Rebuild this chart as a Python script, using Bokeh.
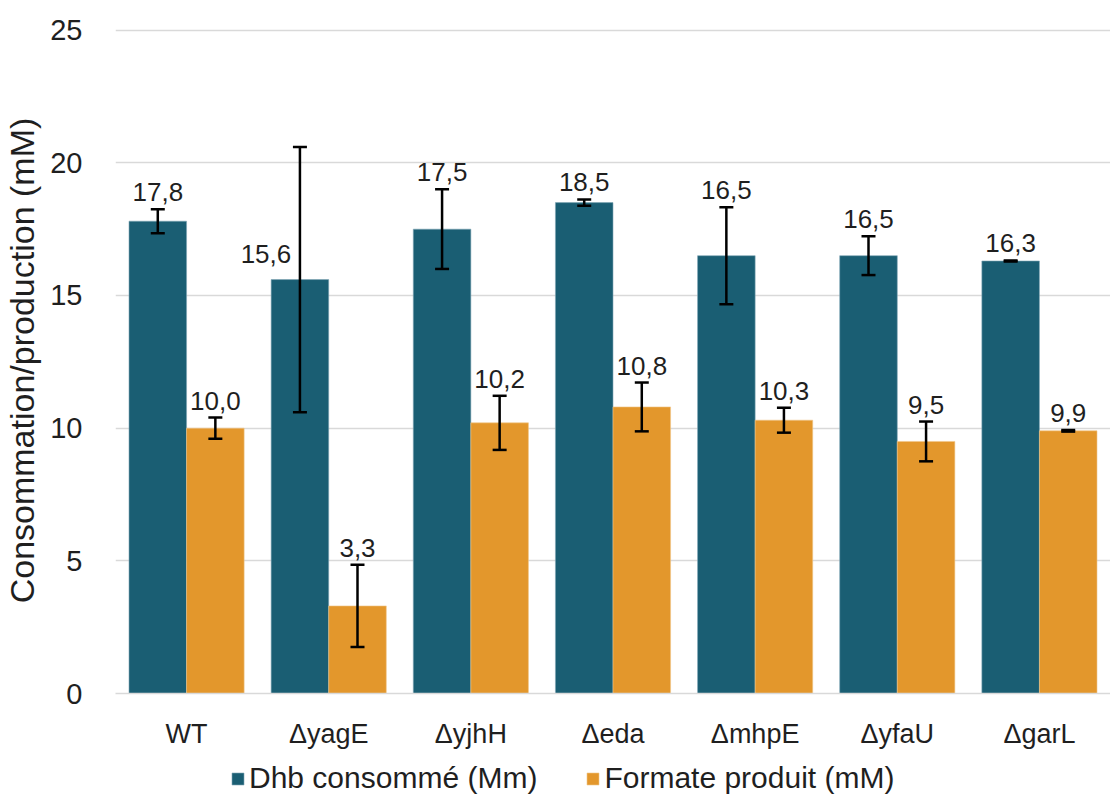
from bokeh.plotting import figure
from bokeh.layouts import column
from bokeh.models import ColumnDataSource, FactorRange, Range1d, Whisker, Legend, LegendItem, TeeHead
from bokeh.transform import dodge
from bokeh.core.properties import value
from bokeh.embed import file_html
from bokeh.resources import INLINE

categories = ["WT", "ΔyagE", "ΔyjhH", "Δeda", "ΔmhpE", "ΔyfaU", "ΔgarL"]
dhb = [17.8, 15.6, 17.5, 18.5, 16.5, 16.5, 16.3]
dhb_err = [0.45, 5.0, 1.5, 0.12, 1.83, 0.73, 0.02]
formate = [10.0, 3.3, 10.2, 10.8, 10.3, 9.5, 9.9]
formate_err = [0.40, 1.55, 1.02, 0.92, 0.47, 0.75, 0.03]
series_names = ["Dhb consommé (Mm)", "Formate produit (mM)"]
y_ticks = [0, 5, 10, 15, 20, 25]

TEAL = "#1a5e73"
ORANGE = "#e3972c"
FONT = "Liberation Sans"
TXT = "#1f1f1f"


def fmt(v):
    return f"{v:.1f}".replace(".", ",")


def make_source(vals, errs):
    big = [e > 3 for e in errs]
    return ColumnDataSource(dict(
        cat=categories,
        val=vals,
        upper=[v + e for v, e in zip(vals, errs)],
        lower=[v - e for v, e in zip(vals, errs)],
        label=[fmt(v) for v in vals],
        label_y=[v if b else v + e for v, e, b in zip(vals, errs, big)],
        label_dx=[-34 if b else 0 for b in big],
        label_dy=[-17 if b else -8 for b in big],
    ))


src_d = make_source(dhb, dhb_err)
src_f = make_source(formate, formate_err)

p = figure(
    frame_width=995, frame_height=666,
    x_range=FactorRange(*categories, range_padding=0),
    y_range=Range1d(0, 25.1),
    output_backend="svg", toolbar_location=None,
    min_border_left=113, min_border_right=2, min_border_top=27, min_border_bottom=58,
)
p.outline_line_color = None
p.background_fill_color = "white"

W = 0.405
off = W / 2
bar_d = dict(fill_color=TEAL, line_color="#7fa6b5", line_width=0.6)
bar_f = dict(fill_color=ORANGE, line_color="#f0c68a", line_width=0.6)
p.vbar(x=dodge("cat", -off, range=p.x_range), top="val", width=W, source=src_d, **bar_d)
p.vbar(x=dodge("cat", off, range=p.x_range), top="val", width=W, source=src_f, **bar_f)

for src, dx in ((src_d, -off), (src_f, off)):
    w = Whisker(source=src, base=dodge("cat", dx, range=p.x_range), upper="upper", lower="lower",
                line_color="black", line_width=2.5, level="overlay",
                upper_head=TeeHead(size=14, line_color="black", line_width=2.5),
                lower_head=TeeHead(size=14, line_color="black", line_width=2.5))
    p.add_layout(w)
    p.text(x=dodge("cat", dx, range=p.x_range), y="label_y", text="label", source=src,
           x_offset="label_dx", y_offset="label_dy",
           text_align="center", text_baseline="bottom",
           text_font=value(FONT), text_font_size="26px", text_color=TXT)

# axes
p.yaxis.ticker = y_ticks
p.yaxis.axis_line_color = None
p.yaxis.major_tick_line_color = None
p.yaxis.minor_tick_line_color = None
p.yaxis.major_label_text_font = FONT
p.yaxis.major_label_text_font_size = "29px"
p.yaxis.major_label_text_color = TXT
p.yaxis.major_label_standoff = 27
p.yaxis.axis_label = "Consommation/production (mM)"
p.yaxis.axis_label_text_font = FONT
p.yaxis.axis_label_text_font_size = "34px"
p.yaxis.axis_label_text_font_style = "normal"
p.yaxis.axis_label_text_color = TXT
p.yaxis.axis_label_standoff = 6

p.xaxis.axis_line_color = "#d9d9d9"
p.xaxis.axis_line_width = 1.5
p.xaxis.major_tick_line_color = None
p.xaxis.minor_tick_line_color = None
p.xaxis.major_label_text_font = FONT
p.xaxis.major_label_text_font_size = "27px"
p.xaxis.major_label_text_color = TXT
p.xaxis.major_label_standoff = 19

p.xgrid.grid_line_color = None
p.ygrid.grid_line_color = "#d9d9d9"
p.ygrid.grid_line_width = 1.5

# legend strip below the chart (same data, bars out of view)
q = figure(width=1110, height=47, x_range=p.x_range, y_range=Range1d(100, 101),
           output_backend="svg", toolbar_location=None,
           x_axis_location=None, y_axis_location=None, min_border=0)
q.outline_line_color = None
q.xgrid.visible = False
q.ygrid.visible = False
l_d = q.vbar(x=dodge("cat", -off, range=q.x_range), top="val", width=W, source=src_d, **bar_d)
l_f = q.vbar(x=dodge("cat", off, range=q.x_range), top="val", width=W, source=src_f, **bar_f)

legend = Legend(items=[LegendItem(label=series_names[0], renderers=[l_d]),
                       LegendItem(label=series_names[1], renderers=[l_f])],
                orientation="horizontal", location=(115, 3),
                label_text_font=FONT, label_text_font_size="30px", label_text_color=TXT,
                glyph_width=15, glyph_height=15, label_standoff=4, spacing=48,
                padding=0, margin=0, border_line_color=None, background_fill_alpha=0)
q.add_layout(legend, "center")

open("out.html", "w").write(file_html(column(p, q, spacing=0), INLINE))
